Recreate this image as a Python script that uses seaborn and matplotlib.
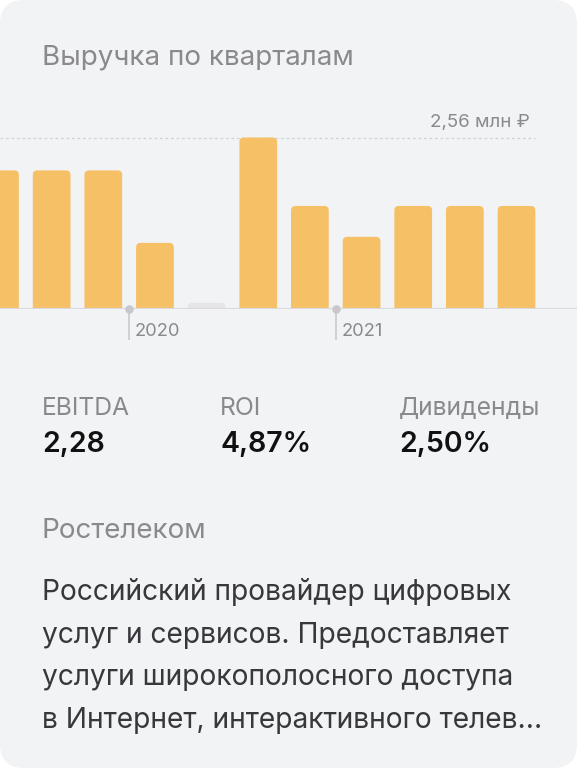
"""
Quarterly revenue card: rounded bars + key metrics + company blurb.
"""
import numpy as np
import pandas as pd
import matplotlib
matplotlib.use('Agg')
import matplotlib.pyplot as plt
from matplotlib.patches import FancyBboxPatch
import seaborn as sns

# data
QUARTERS = ['2019 Q2', '2019 Q3', '2019 Q4',
            '2020 Q1', '2020 Q2', '2020 Q3', '2020 Q4',
            '2021 Q1', '2021 Q2', '2021 Q3', '2021 Q4']
REVENUE = [2.07, 2.07, 2.07, 0.99, np.nan, 2.56, 1.54, 1.08, 1.54, 1.54, 1.54]  # млн ₽, NaN = нет данных
MAX_LABEL = '2,56 млн ₽'
TITLE = 'Выручка по кварталам'
METRIC_NAMES = ['EBITDA', 'ROI', 'Дивиденды']
METRIC_VALUES = ['2,28', '4,87%', '2,50%']
COMPANY = 'Ростелеком'
DESCRIPTION = ['Российский провайдер цифровых',
               'услуг и сервисов. Предоставляет',
               'услуги широкополосного доступа',
               'в Интернет, интерактивного телев...']

W, H, DPI = 577, 768, 100
BG = '#F2F3F5'
BAR = '#F6C066'
STUB = '#E6E6EA'
GRAY = '#8A8A8E'
FONT = ['Inter', 'DejaVu Sans']

sns.set_theme(style='white')
plt.rcParams['font.family'] = FONT

fig = plt.figure(figsize=(W / DPI, H / DPI), dpi=DPI, facecolor='white')
card = FancyBboxPatch((0, 0), W / DPI, H / DPI, boxstyle='round,pad=0,rounding_size=0.24',
                      transform=fig.dpi_scale_trans, facecolor=BG, edgecolor='none', zorder=-10)
fig.patches.append(card)


def fx(x):
    return x / W


def fy(y):
    return 1 - y / H


# chart axes: baseline at y=309, max bar top at y=137.5 (pixels)
base_px, top_px, max_px = 309.3, 95.0, 137.5
ax = fig.add_axes([0, fy(base_px), 1, (base_px - top_px) / H])
ax.set_facecolor('none')

df = pd.DataFrame({'quarter': QUARTERS, 'revenue': REVENUE})
df['year'] = df['quarter'].str[:4]
vmax = df['revenue'].max()
stub_h = vmax * 0.038  # placeholder height for missing quarter

plot_df = df.assign(value=df['revenue'].fillna(stub_h))
sns.barplot(data=plot_df, x='quarter', y='value', order=QUARTERS, color=BAR,
            saturation=1, width=0.73, ax=ax)

ax.set_ylim(0, vmax * (base_px - top_px) / (base_px - max_px))
ax.set_xlim(0, W / 51.65)
for s in ax.spines.values():
    s.set_visible(False)
ax.set_xlabel('')
ax.set_ylabel('')
ax.set_yticks([])

# rounded bar tops
fig.canvas.draw()
px_x = ax.transData.transform((1, 0))[0] - ax.transData.transform((0, 0))[0]
px_y = ax.transData.transform((0, 1))[1] - ax.transData.transform((0, 0))[1]
r = 4.5 / px_x
aspect = px_x / px_y
missing = df['revenue'].isna().values
bars = list(ax.patches)
for i, p in enumerate(bars):
    x0, w, h = p.get_x(), p.get_width(), p.get_height()
    p.remove()
    ry = r * aspect
    fb = FancyBboxPatch((x0, -ry), w, h + ry,
                        boxstyle=f'round,pad=0,rounding_size={r}',
                        mutation_aspect=aspect,
                        facecolor=STUB if missing[i] else BAR, edgecolor='none', zorder=2)
    ax.add_patch(fb)

# baseline
ax.axhline(0, color='#D9D9DE', lw=1.6, zorder=3)

# dotted max line and label
last_right = len(QUARTERS) - 1 + 0.73 / 2
ax.hlines(vmax, 0, last_right, colors='#D1D1D6', linestyles=(0, (2.2, 2.2)), lw=0.9, zorder=1)
ax.annotate(MAX_LABEL, xy=(last_right, vmax), xytext=(-6, 11), textcoords='offset pixels',
            ha='right', va='baseline', fontsize=13.5, color=GRAY, annotation_clip=False)

# year ticks
bounds = [i - 0.5 for i in range(1, len(df)) if df['year'][i] != df['year'][i - 1]]
years = [df['year'][int(b + 0.5)] for b in bounds]
ax.set_xticks(bounds)
ax.set_xticklabels([''] * len(bounds))
ax.tick_params(axis='x', length=31 * 72 / DPI, width=1.1, color='#C7C7CC', direction='out', bottom=True)
ax.scatter(bounds, [0] * len(bounds), s=26, color='#C7C7CC', zorder=4, clip_on=False)
for b, yr in zip(bounds, years):
    ax.annotate(yr, xy=(b, 0), xytext=(6, -27), textcoords='offset pixels',
                ha='left', va='baseline', fontsize=13.2, color=GRAY, annotation_clip=False)

# text blocks
fig.text(fx(42), fy(65), TITLE, fontsize=20, color=GRAY, va='baseline')
for x, name, val in zip([42, 220, 399], METRIC_NAMES, METRIC_VALUES):
    fig.text(fx(x), fy(415), name, fontsize=17.8, color=GRAY, va='baseline')
    fig.text(fx(x), fy(452), val, fontsize=20.5, color='#111111', fontweight='semibold', va='baseline')
fig.text(fx(42), fy(538), COMPANY, fontsize=20, color=GRAY, va='baseline')
for k, line in enumerate(DESCRIPTION):
    fig.text(fx(42), fy(600 + 42.7 * k), line, fontsize=20.3, color='#38383C', va='baseline')

fig.savefig('out.png', dpi=DPI, facecolor='white')
